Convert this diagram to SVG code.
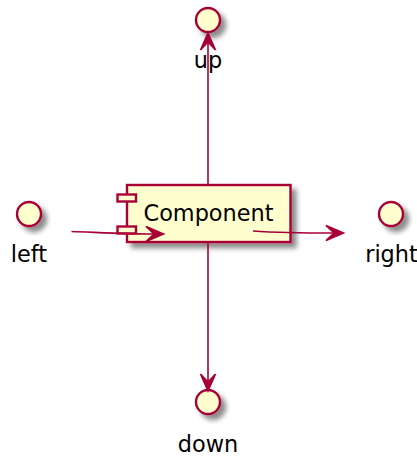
<svg xmlns="http://www.w3.org/2000/svg" width="417" height="457" viewBox="0 0 417 457">
<style>
.n{fill:#FEFECE;stroke:#A80036;stroke-width:2.4}
.t{font-family:"DejaVu Sans",sans-serif;font-size:22.4px;fill:#000;text-anchor:middle}
.l{fill:none;stroke:#A80036;stroke-width:1.6}
.a{fill:#A80036;stroke:#A80036;stroke-width:1.6}
</style>
<defs>
<filter id="sh" x="-30%" y="-30%" width="170%" height="170%">
<feGaussianBlur in="SourceAlpha" stdDeviation="2.6" result="b"/>
<feColorMatrix in="b" type="matrix" values="0 0 0 0 0 0 0 0 0 0 0 0 0 0 0 0 0 0 .45 0" result="c"/>
<feOffset in="c" dx="5" dy="5" result="o"/>
<feMerge><feMergeNode in="o"/><feMergeNode in="SourceGraphic"/></feMerge>
</filter>
</defs>
<rect width="417" height="457" fill="#FFFFFF"/>
<g id="Component">
<rect class="n" x="127" y="185" width="163.5" height="57" filter="url(#sh)"/>
<rect class="n" x="117.5" y="194.5" width="18.5" height="7"/>
<rect class="n" x="117.5" y="226.5" width="18.5" height="7"/>
<text class="t" x="208.5" y="221">Component</text>
</g>
<g id="up">
<circle class="n" cx="208" cy="20" r="12" filter="url(#sh)"/>
<text class="t" x="208" y="68">up</text>
</g>
<g id="left">
<circle class="n" cx="29" cy="214" r="12" filter="url(#sh)"/>
<text class="t" x="29" y="262">left</text>
</g>
<g id="right">
<circle class="n" cx="391" cy="214" r="12" filter="url(#sh)"/>
<text class="t" x="391.5" y="262">right</text>
</g>
<g id="down">
<circle class="n" cx="208" cy="402" r="12" filter="url(#sh)"/>
<text class="t" x="208" y="451.5">down</text>
</g>
<g id="connectors">
<path class="l" d="M208,185 L208,42"/>
<polygon class="a" points="208,33 215.5,50 208,42 200.5,50"/>
<path class="l" d="M208,242 L208,382"/>
<polygon class="a" points="208,391 215.5,374 208,382 200.5,374"/>
<path class="l" d="M71.5,231.5 C100,232.5 130,234 154,234"/>
<polygon class="a" points="163.5,234 146,226.5 154,234 146,241.5"/>
<path class="l" d="M253,231 C275,232.5 300,233 334,233"/>
<polygon class="a" points="343.5,233 326,225.5 334,233 326,240.5"/>
</g>
</svg>
